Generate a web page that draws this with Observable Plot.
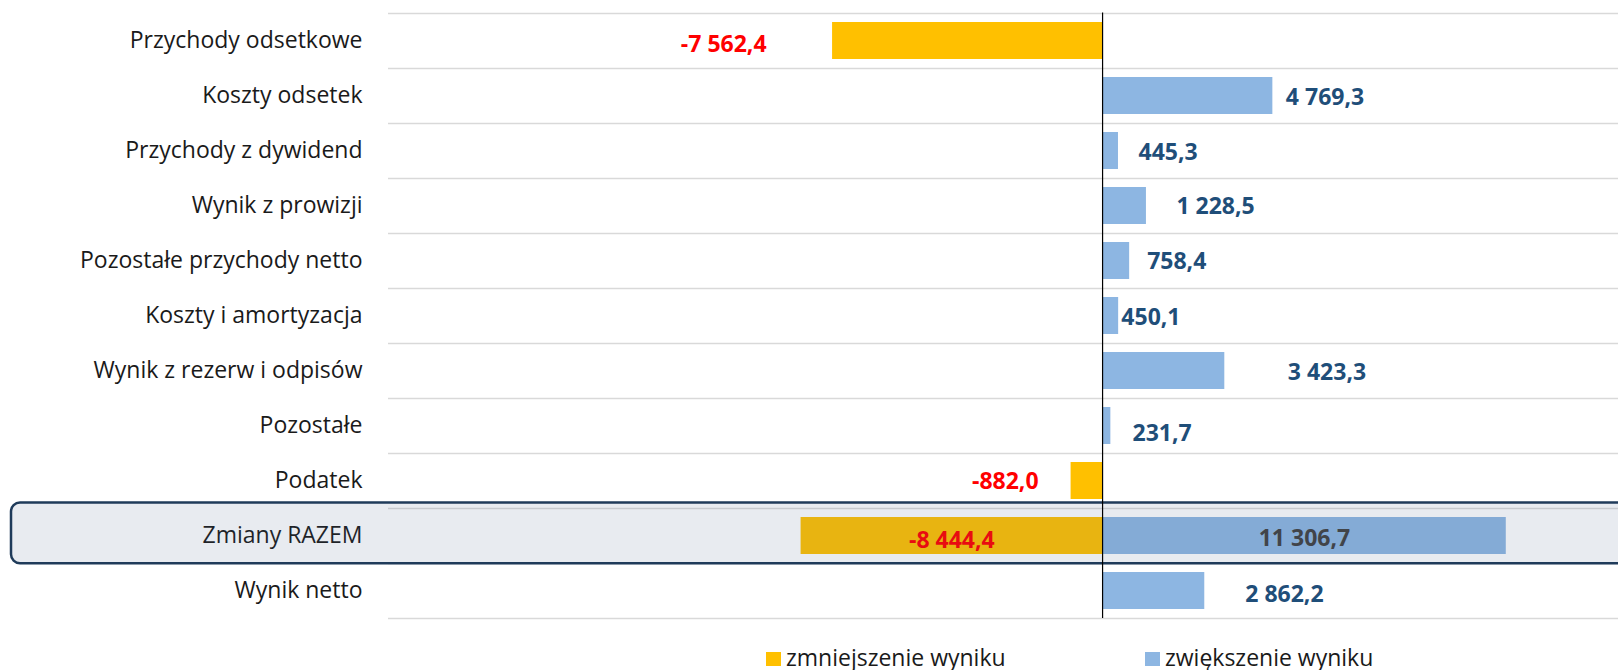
<!DOCTYPE html>
<html>
<head>
<meta charset="utf-8">
<script src="https://cdn.jsdelivr.net/npm/d3@7"></script>
<script src="https://cdn.jsdelivr.net/npm/@observablehq/plot@0.6"></script>
<style>
  html, body { margin: 0; padding: 0; background: #ffffff; overflow: hidden; }
  #chart { width: 1618px; height: 630px; }
  #legend { position: relative; width: 1618px; height: 40px; font-family: "Open Sans", sans-serif; font-size: 23px; color: #1a1a1a; }
  #legend .sw { position: absolute; width: 15px; height: 14.5px; }
  #legend .lb { position: absolute; line-height: 23px; white-space: nowrap; }
</style>
</head>
<body>
<div id="chart"></div>
<div id="legend"></div>
<script>
// ---- data ----
const categories = [
  "Przychody odsetkowe",
  "Koszty odsetek",
  "Przychody z dywidend",
  "Wynik z prowizji",
  "Pozostałe przychody netto",
  "Koszty i amortyzacja",
  "Wynik z rezerw i odpisów",
  "Pozostałe",
  "Podatek",
  "Zmiany RAZEM",
  "Wynik netto"
];
const decrease = [-7562.4, null, null, null, null, null, null, null, -882.0, -8444.4, null];
const increase = [null, 4769.3, 445.3, 1228.5, 758.4, 450.1, 3423.3, 231.7, null, 11306.7, 2862.2];
const seriesNames = ["zmniejszenie wyniku", "zwiększenie wyniku"];
const totalRow = "Zmiany RAZEM";

// ---- layout (label nudges in px, as placed in the original) ----
const decreaseLabelDx = [-66, null, null, null, null, null, null, null, -32.5, 0, null];
const decreaseLabelDy = [2.7, null, null, null, null, null, null, null, 0, 4.2, null];
const increaseLabelDx = [null, 13, 20, 30, 17.5, 2.7, 63, 21.7, null, 0, 40.5];
const increaseLabelDy = [null, 1, 0.6, 0, 0, 0.4, 1.2, 6.9, null, 1.8, 2.4];

// ---- styles ----
const seriesColors = ["#FFC000", "#8DB6E2"];
const labelColors = ["#FF0000", "#1F4E79"];
const totalLabelColors = ["#FF0000", "#404040"];

const pl = d3.formatLocale({decimal: ",", thousands: "\u00a0", grouping: [3], currency: ["", ""], minus: "-"});
const fmt = pl.format(",.1f");

const rows = [];
categories.forEach((c, i) => {
  if (decrease[i] != null) rows.push({cat: c, value: decrease[i], series: seriesNames[0], s: 0, dx: decreaseLabelDx[i], dy: decreaseLabelDy[i]});
  if (increase[i] != null) rows.push({cat: c, value: increase[i], series: seriesNames[1], s: 1, dx: increaseLabelDx[i], dy: increaseLabelDy[i]});
});

const W = 1618, H = 630, mT = 12.4, mB = 12, mL = 388;
const step = (H - mT - mB) / categories.length;
const font = "'Open Sans', sans-serif";

const labelMarks = rows.map(r => {
  const isTotal = r.cat === totalRow;
  return Plot.text([r], {
    x: isTotal ? (d => d.value / 2) : "value",
    y: "cat",
    text: d => fmt(d.value),
    textAnchor: isTotal ? "middle" : (r.value < 0 ? "end" : "start"),
    dx: isTotal ? 0 : r.dx,
    dy: r.dy + 0.8,
    fill: isTotal ? totalLabelColors[r.s] : labelColors[r.s],
    fontWeight: "bold",
    fontSize: 23
  });
});

const chart = Plot.plot({
  width: W,
  height: H,
  marginLeft: mL,
  marginRight: 0,
  marginTop: mT,
  marginBottom: mB,
  style: {fontFamily: font, fontSize: "23px", background: "#ffffff", overflow: "hidden"},
  x: {domain: [-20000, 14450], axis: null},
  y: {domain: categories, paddingInner: 1/3, paddingOuter: 1/6, align: 0.5, axis: null},
  color: {domain: seriesNames, range: seriesColors},
  marks: [
    Plot.ruleY(categories, {y: d => d, dy: -step / 2, stroke: "#d9d9d9", strokeWidth: 1.4}),
    Plot.ruleY([categories[categories.length - 1]], {y: d => d, dy: step / 2, stroke: "#d9d9d9", strokeWidth: 1.4}),
    Plot.text(categories, {y: d => d, text: d => d, frameAnchor: "left", textAnchor: "end", dx: -26, fill: "#1a1a1a", fontSize: 23}),
    Plot.barX(rows, {x: "value", y: "cat", fill: "series"}),
    ...labelMarks,
    Plot.cell([totalRow], {
      y: d => d, fill: "#476285", fillOpacity: 0.125, stroke: "#1f3b5a", strokeWidth: 2.5, rx: 9,
      insetLeft: 11 - mL, insetRight: -40, insetTop: -14.4, insetBottom: -9.2
    }),
    Plot.ruleX([0], {stroke: "#000000", strokeWidth: 1.2})
  ]
});
document.getElementById("chart").appendChild(chart);

// ---- legend (HTML, below the SVG) ----
const legend = document.getElementById("legend");
const legendPos = [{sw: 766, lb: 786}, {sw: 1145, lb: 1165}];
seriesNames.forEach((name, i) => {
  const sw = document.createElement("div");
  sw.className = "sw";
  sw.style.left = legendPos[i].sw + "px";
  sw.style.top = "21.7px";
  sw.style.background = seriesColors[i];
  legend.appendChild(sw);
  const lb = document.createElement("div");
  lb.className = "lb";
  lb.style.left = legendPos[i].lb + "px";
  lb.style.top = "15.6px";
  lb.textContent = name;
  legend.appendChild(lb);
});
</script>
</body>
</html>
